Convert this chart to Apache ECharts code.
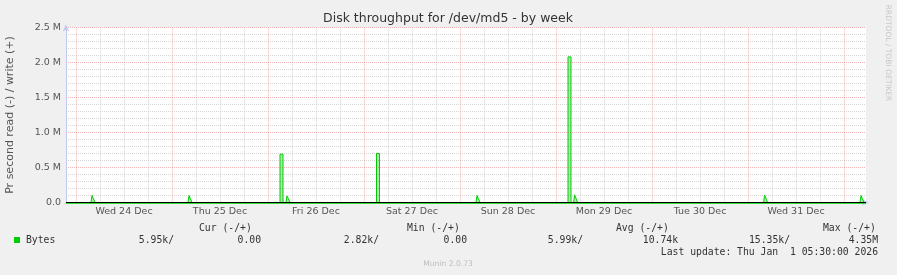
<!DOCTYPE html>
<html>
<head>
<meta charset="utf-8">
<script src="https://cdn.jsdelivr.net/npm/echarts@6/dist/echarts.min.js"></script>
<style>
html,body{margin:0;padding:0;background:#f0f0f0;}
#c{width:897px;height:275px;}
</style>
</head>
<body>
<div id="c"></div>
<script>
// ---- data (hours since Wed 24 Dec 00:00) ----
const dayLabels = ['Wed 24 Dec','Thu 25 Dec','Fri 26 Dec','Sat 27 Dec','Sun 28 Dec','Mon 29 Dec','Tue 30 Dec','Wed 31 Dec'];
const labelHours = [12, 36, 60, 84, 108, 132, 156, 180];
const midnightHours = [0, 24, 48, 72, 96, 120, 144, 168, 192];
const sixHourHours = [6, 12, 18, 30, 36, 42, 54, 60, 66, 78, 84, 90, 102, 108, 114, 126, 132, 138, 150, 156, 162, 174, 180, 186];
const xStart = -2.5, xEnd = 197.5;
const yTickValues = [0, 500000, 1000000, 1500000, 2000000, 2500000];
const yTickLabels = ['0.0', '0.5 M', '1.0 M', '1.5 M', '2.0 M', '2.5 M'];

const writeHours = [-2.5,
  3.75, 4, 4.5, 4.75,
  28, 28.25, 28.75, 29,
  51, 51, 51.75, 51.75,
  52.5, 52.75, 53.25, 53.5,
  75.125, 75.125, 75.875, 75.875,
  100, 100.25, 100.75, 101,
  123, 123, 123.75, 123.75,
  124.4, 124.65, 125.15, 125.4,
  148.25, 148.5, 148.75,
  171.9, 172.15, 172.65, 172.9,
  196, 196.25, 196.75, 197,
  197.5];
const writeValues = [0,
  0, 100000, 100000, 0,
  0, 100000, 100000, 0,
  0, 690000, 690000, 0,
  0, 95000, 95000, 0,
  0, 700000, 700000, 0,
  0, 100000, 100000, 0,
  0, 2080000, 2080000, 0,
  0, 110000, 110000, 0,
  0, 15000, 0,
  0, 105000, 105000, 0,
  0, 100000, 100000, 0,
  0];
const readHours = [-2.5, 197.5];
const readValues = [-6000, -6000];

// legend texts
const legendHeader = ['Cur (-/+)', 'Min (-/+)', 'Avg (-/+)', 'Max (-/+)'];
const legendValues = ['5.95k/', '0.00', '2.82k/', '0.00', '5.99k/', '10.74k', '15.35k/', '4.35M'];

const chart = echarts.init(document.getElementById('c'), null, {renderer: 'canvas'});
const mono = '9.75px "DejaVu Sans Mono"';
const txtCol = '#333';
const hdrX = [199, 407, 616, 823];
const valRight = [174, 261, 379, 467, 583, 678, 790, 878];
const redGrid = '#f0b4b4';
const greyGrid = '#d6d6d6';

const graphics = [
  {type:'text', style:{text:'Disk throughput for /dev/md5 - by week', x:448, y:19, textAlign:'center', textVerticalAlign:'middle', font:'12.5px "DejaVu Sans"', fill:'#333'}},
  {type:'text', rotation:Math.PI/2, x:10, y:115, style:{text:'Pr second read (-) / write (+)', x:0, y:0, textAlign:'center', textVerticalAlign:'middle', font:'11px "DejaVu Sans"', fill:'#555'}},
  {type:'text', rotation:-Math.PI/2, x:888, y:53, style:{text:'RRDTOOL / TOBI OETIKER', x:0, y:0, textAlign:'center', textVerticalAlign:'middle', font:'7.5px "DejaVu Sans"', fill:'#c8c8c8'}},
  {type:'rect', shape:{x:14, y:237, width:6, height:6}, style:{fill:'#00cc00'}},
  {type:'text', style:{text:'Bytes', x:26, y:240, textAlign:'left', textVerticalAlign:'middle', font:mono, fill:txtCol}},
  {type:'text', style:{text:'Last update: Thu Jan  1 05:30:00 2026', x:878, y:252, textAlign:'right', textVerticalAlign:'middle', font:mono, fill:txtCol}},
  {type:'text', style:{text:'Munin 2.0.73', x:448, y:264, textAlign:'center', textVerticalAlign:'middle', font:'7.6px "DejaVu Sans"', fill:'#bdbdbd'}}
];
legendHeader.forEach((t,i)=>graphics.push({type:'text', style:{text:t, x:hdrX[i], y:228, textAlign:'left', textVerticalAlign:'middle', font:mono, fill:txtCol}}));
legendValues.forEach((t,i)=>graphics.push({type:'text', style:{text:t, x:valRight[i], y:240, textAlign:'right', textVerticalAlign:'middle', font:mono, fill:txtCol}}));

const option = {
  backgroundColor:'#f0f0f0',
  animation:false,
  grid:{left:66, right:31, top:27.5, bottom:72.5, show:true, backgroundColor:'#ffffff', borderWidth:0},
  xAxis:[{
    type:'value', min:xStart, max:xEnd, position:'bottom',
    axisLine:{show:true, onZero:false, lineStyle:{color:'#c4c8f0', width:1}, symbol:['none','arrow'], symbolSize:[5,7], symbolOffset:[0,3]},
    axisTick:{show:true, inside:true, length:176, customValues:midnightHours, lineStyle:{color:redGrid, type:[1,1], width:1}},
    axisLabel:{show:true, customValues:labelHours, margin:4, color:'#555', fontFamily:'DejaVu Sans', fontSize:9.5,
      formatter:(v)=>{const i=labelHours.indexOf(Math.round(v)); return i>=0?dayLabels[i]:'';}},
    splitLine:{show:false}
  },{
    type:'value', min:xStart, max:xEnd, position:'bottom',
    axisLine:{show:false, onZero:false},
    axisTick:{show:true, inside:true, length:176, customValues:sixHourHours, lineStyle:{color:greyGrid, type:[1,1], width:1}},
    axisLabel:{show:false},
    splitLine:{show:false}
  }],
  yAxis:{
    type:'value', min:0, max:2500000, interval:500000,
    axisLine:{show:true, onZero:false, lineStyle:{color:'#c4c8f0', width:1}, symbol:['none','arrow'], symbolSize:[5,7], symbolOffset:[0,3]},
    axisTick:{show:false},
    axisLabel:{margin:5, color:'#555', fontFamily:'DejaVu Sans', fontSize:9.5,
      formatter:(v)=>{const i=yTickValues.indexOf(v); return i>=0?yTickLabels[i]:'';}},
    splitLine:{show:true, lineStyle:{color:redGrid, type:[1,1], width:1}},
    minorTick:{show:false, splitNumber:5},
    minorSplitLine:{show:true, lineStyle:{color:greyGrid, type:[1,1], width:1}}
  },
  graphic:graphics,
  series:[{
    type:'line', xAxisIndex:0, z:3,
    data:writeHours.map((h,i)=>[h, writeValues[i]]),
    symbol:'none', smooth:false,
    lineStyle:{color:'#00cc00', width:1},
    areaStyle:{color:'rgba(0,204,0,0.45)', origin:0},
    silent:true,
    markLine:{silent:true, z:10, symbol:['none','none'], label:{show:false},
      lineStyle:{color:'#000000', width:1, type:'solid'}, data:[{yAxis:0}]}
  },{
    type:'line', xAxisIndex:0, z:2, clip:false,
    data:readHours.map((h,i)=>[h, readValues[i]]),
    symbol:'none',
    lineStyle:{color:'#33dd33', width:2},
    silent:true
  }]
};
chart.setOption(option);
</script>
</body>
</html>
